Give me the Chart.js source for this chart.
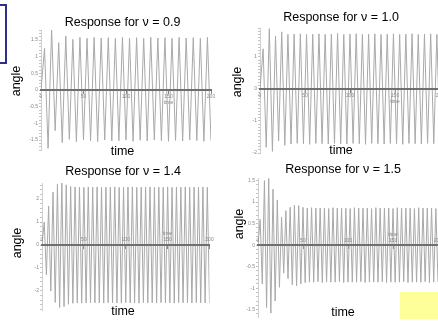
<!DOCTYPE html>
<html><head><meta charset="utf-8">
<script src="https://cdn.jsdelivr.net/npm/chart.js@4/dist/chart.umd.min.js"></script>
<style>
html,body{margin:0;padding:0;background:#fff;overflow:hidden;width:438px;height:324px;position:relative}
canvas{position:absolute}
#box{position:absolute;left:-60px;top:4px;width:63px;height:56px;border:2px solid #2e2e8c}
#note{position:absolute;left:400px;top:292px;width:38px;height:27px;background:#ffff99}
</style></head><body>
<div id="box"></div>
<canvas id="c1" width="245" height="160" style="left:0px;top:0px"></canvas>
<canvas id="c2" width="230" height="160" style="left:226px;top:0px"></canvas>
<canvas id="c3" width="246" height="164" style="left:0px;top:160px"></canvas>
<canvas id="c4" width="234" height="164" style="left:226px;top:160px"></canvas>
<div id="note"></div>
<script>
// ---- data (successive peak values of the response) ----
const titles = ['Response for ν = 0.9', 'Response for ν = 1.0', 'Response for ν = 1.4', 'Response for ν = 1.5'];
const xTicks = [0, 50, 100, 150, 200];
const peaks09 = [0, 1.25, -1.75, 1.82, -1.22, 1.42, -1.58, 1.62, -1.48, 1.52,
  -1.55, 1.58, -1.50, 1.55, -1.52, 1.58, -1.55, 1.56, -1.50, 1.57,
  -1.53, 1.55, -1.52, 1.58, -1.50, 1.56, -1.54, 1.57, -1.51, 1.55,
  -1.53, 1.58, -1.50, 1.56, -1.52, 1.57, -1.54, 1.55, -1.51, 1.58,
  -1.53, 1.56, -1.50, 1.57, -1.52, 1.55, -1.54, 1.58, -1.52];
const halfPeriod09 = 4.166;
const peaks10 = [0, 1.25, -1.82, 1.88, -1.95, 1.65, -1.62, 1.78, -1.76, 1.70,
  -1.72, 1.71, -1.70, 1.72, -1.71, 1.70, -1.73, 1.71, -1.70, 1.72,
  -1.71, 1.70, -1.72, 1.71, -1.70, 1.73, -1.71, 1.70, -1.72, 1.71,
  -1.70, 1.72, -1.71, 1.70, -1.73, 1.71, -1.70, 1.72, -1.71, 1.70,
  -1.72, 1.71, -1.70, 1.72, -1.71, 1.70, -1.73, 1.71, -1.70, 1.72,
  -1.71, 1.70, -1.72, 1.71, -1.70, 1.72, -1.71, 1.70, -1.72];
const halfPeriod10 = 3.448;
const peaks14 = [0, 1.0, -1.3, 1.7, -2.0, 2.3, -2.5, 2.65, -2.72, 2.72,
  -2.68, 2.62, -2.58, 2.55, -2.54, 2.53, -2.52, 2.52, -2.53, 2.51,
  -2.52, 2.53, -2.51, 2.52, -2.52, 2.53, -2.52, 2.51, -2.53, 2.52,
  -2.51, 2.52, -2.52, 2.53, -2.52, 2.51, -2.53, 2.52, -2.51, 2.52,
  -2.52, 2.53, -2.52, 2.51, -2.53, 2.52, -2.51, 2.52, -2.52, 2.53,
  -2.52, 2.51, -2.53, 2.52, -2.51, 2.52, -2.52, 2.53, -2.52, 2.51,
  -2.53, 2.52, -2.51, 2.52, -2.52, 2.53, -2.52, 2.51, -2.53, 2.52,
  -2.51, 2.52, -2.52, 2.53, -2.52, 2.51, -2.52];
const halfPeriod14 = 2.632;
const peaks15 = [0, 0.6, -0.9, 1.5, -1.45, 1.55, -1.58, 1.3, -1.3, 1.05,
  -0.98, 0.65, -0.65, 0.8, -0.78, 0.88, -0.92, 0.93, -0.95, 0.92,
  -0.90, 0.88, -0.87, 0.86, -0.86, 0.87, -0.86, 0.86, -0.85, 0.86,
  -0.87, 0.86, -0.86, 0.85, -0.86, 0.87, -0.86, 0.86, -0.85, 0.86,
  -0.87, 0.86, -0.86, 0.85, -0.86, 0.87, -0.86, 0.86, -0.85, 0.86,
  -0.87, 0.86, -0.86, 0.85, -0.86, 0.87, -0.86, 0.86, -0.85, 0.86,
  -0.87, 0.86, -0.86, 0.85, -0.86, 0.87, -0.86, 0.86, -0.85, 0.86,
  -0.87, 0.86, -0.86, 0.85, -0.86, 0.87, -0.86, 0.86, -0.85, 0.86,
  -0.87, 0.86, -0.86, 0.85, -0.86];
const halfPeriod15 = 2.381;

Chart.defaults.font.family = '"Liberation Sans", Arial, sans-serif';
Chart.defaults.color = '#000';

const sideTitle = {
  id: 'sideTitle',
  afterDraw(chart, args, o) {
    const ctx = chart.ctx;
    ctx.save();
    ctx.translate(o.x, o.y);
    ctx.rotate(-Math.PI / 2);
    ctx.font = '12.5px "Liberation Sans", Arial, sans-serif';
    ctx.fillStyle = '#000';
    ctx.textAlign = 'center';
    ctx.textBaseline = 'middle';
    ctx.fillText(chart.options.scales.y.title.text, 0, 0);
    ctx.restore();
  }
};

function panel(id, o) {
  const isMajor = (v, m) => Math.abs(v / m - Math.round(v / m)) < 1e-6;
  new Chart(document.getElementById(id), {
    type: 'line',
    data: { datasets: [{
      data: o.peaks.map((v, i) => ({ x: i * o.half, y: v })),
      borderColor: '#a9a9a9', borderWidth: 1, pointRadius: 0, tension: 0
    }]},
    options: {
      responsive: false, animation: false, devicePixelRatio: 1,
      layout: { padding: 0 },
      plugins: {
        legend: { display: false }, tooltip: { enabled: false },
        title: { display: true, text: o.title, font: { size: 12.5, weight: 'normal' }, color: '#000', padding: o.titlePad },
        subtitle: { display: true, position: 'bottom', text: 'time', font: { size: 12.5, weight: 'normal' }, color: '#000', padding: o.subPad },
        sideTitle: o.side
      },
      scales: {
        x: {
          type: 'linear', position: { y: 0 }, min: 0, max: 200,
          afterBuildTicks: s => { s.ticks = xTicks.map(v => ({ value: v })); },
          grid: { display: true, drawOnChartArea: false, drawTicks: true, tickLength: 3, color: '#888' },
          border: { display: true, color: '#6f6f6f', width: 2, z: 1 },
          ticks: {
            z: 1, autoSkip: false, maxRotation: 0, font: { size: 5 }, color: '#888',
            padding: o.xPad, crossAlign: o.above ? 'far' : 'near',
            callback: v => v === 150 ? (o.above ? ['time', '150'] : ['150', 'time']) : String(v)
          }
        },
        y: {
          min: o.ymin, max: o.ymax,
          afterFit: s => { s.width = o.yWidth; },
          title: { display: false, text: 'angle' },
          grid: { display: true, drawOnChartArea: false, drawTicks: true, tickLength: 2, color: '#c4c4c4' },
          border: { display: true, color: '#cfcfcf', width: 1 },
          ticks: {
            stepSize: o.minor, includeBounds: false, autoSkip: false, font: { size: 5 }, color: '#888', padding: 1,
            callback: v => isMajor(v, o.major) ? String(Math.round(v * 100) / 100) : ''
          }
        },
        gap: {
          type: 'linear', position: 'right', display: true,
          afterFit: s => { s.width = o.padRight; },
          grid: { display: false }, border: { display: false }, ticks: { display: false }
        }
      }
    },
    plugins: [sideTitle]
  });
}

panel('c1', { title: titles[0], peaks: peaks09, half: halfPeriod09, ymin: -1.8, ymax: 1.8, major: 0.5, minor: 0.1,
  yWidth: 41, padRight: 34, titlePad: { top: 15, bottom: 0 }, subPad: { top: -5.5, bottom: 0.5 },
  xPad: 0.5, above: false, side: { x: 17, y: 81 } });
panel('c2', { title: titles[1], peaks: peaks10, half: halfPeriod10, ymin: -2, ymax: 1.9, major: 1, minor: 0.1,
  yWidth: 34, padRight: 16, titlePad: { top: 10.5, bottom: 2.5 }, subPad: { top: -9.5, bottom: 1.5 },
  xPad: 0.5, above: false, side: { x: 12, y: 82 } });
panel('c3', { title: titles[2], peaks: peaks14, half: halfPeriod14, ymin: -2.83, ymax: 2.7, major: 1, minor: 0.2,
  yWidth: 42, padRight: 36.5, titlePad: { top: 4.5, bottom: 3.5 }, subPad: { top: -5.5, bottom: 4.5 },
  xPad: -14, above: true, side: { x: 18, y: 83 } });
panel('c4', { title: titles[3], peaks: peaks15, half: halfPeriod15, ymin: -1.67, ymax: 1.56, major: 0.5, minor: 0.1,
  yWidth: 32, padRight: 22, titlePad: { top: 2.5, bottom: 0.5 }, subPad: { top: -11.5, bottom: 3.5 },
  xPad: -14, above: true, side: { x: 14, y: 64 } });
</script>
</body></html>
